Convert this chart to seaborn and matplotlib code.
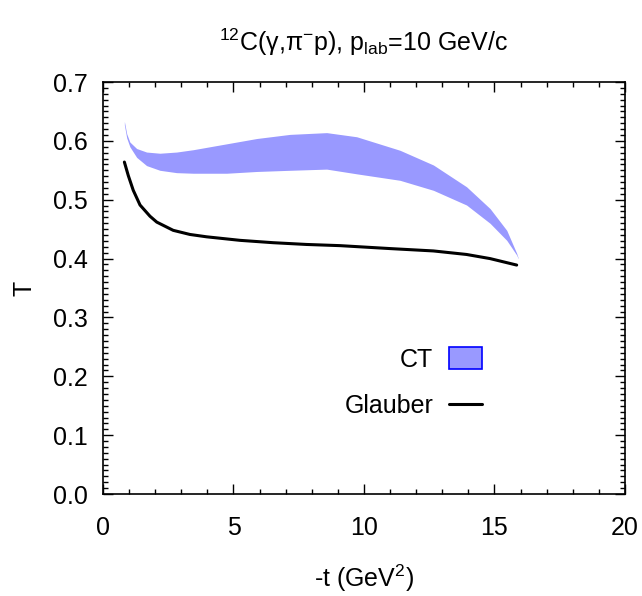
import numpy as np
import pandas as pd
import matplotlib
matplotlib.use("Agg")
import matplotlib.pyplot as plt
from matplotlib.patches import Patch
from matplotlib.lines import Line2D
from matplotlib.ticker import MultipleLocator, FormatStrFormatter
import seaborn as sns

# -----------------------------
# Data
# -----------------------------
glauber_t = [0.82, 0.97, 1.16, 1.42, 1.80, 2.06, 2.69, 3.33, 3.97, 5.25, 6.52, 7.80, 9.08,
             11.0, 12.66, 13.93, 14.83, 15.85]
glauber_T = [0.564, 0.541, 0.516, 0.491, 0.472, 0.462, 0.448, 0.441, 0.437, 0.431, 0.427, 0.424, 0.422,
             0.417, 0.413, 0.407, 0.400, 0.389]

ct_t = [0.82, 0.91, 1.03, 1.29, 1.67, 2.18, 2.82, 3.46, 4.10, 4.74, 5.89, 7.16, 8.57,
        9.72, 11.38, 12.66, 13.93, 14.83, 15.47, 15.85, 15.91]
ct_upper = [0.633, 0.612, 0.598, 0.587, 0.581, 0.579, 0.581, 0.585, 0.590, 0.595, 0.604, 0.611, 0.614,
            0.607, 0.584, 0.559, 0.522, 0.485, 0.448, 0.409, 0.401]
ct_lower = [0.627, 0.605, 0.590, 0.572, 0.558, 0.550, 0.546, 0.545, 0.545, 0.545, 0.548, 0.550, 0.552,
            0.544, 0.533, 0.516, 0.491, 0.460, 0.431, 0.406, 0.400]

# -----------------------------
# Style
# -----------------------------
sns.set_style("ticks")
plt.rcParams['font.family'] = ['Liberation Sans', 'DejaVu Sans']
plt.rcParams['mathtext.default'] = 'regular'
plt.rcParams['xtick.direction'] = 'in'
plt.rcParams['ytick.direction'] = 'in'
plt.rcParams['text.color'] = 'black'
plt.rcParams['axes.labelcolor'] = 'black'
plt.rcParams['xtick.color'] = 'black'
plt.rcParams['ytick.color'] = 'black'
plt.rcParams['axes.edgecolor'] = 'black'

fig = plt.figure(figsize=(6.42, 5.96), dpi=100)
ax = fig.add_axes([0.1604, 0.1711, 0.9735 - 0.1604, 0.8624 - 0.1711])

band_color = '#9999ff'
ax.fill_between(ct_t, ct_lower, ct_upper, color=band_color, linewidth=0)

glauber = pd.DataFrame({"t": glauber_t, "T": glauber_T})
sns.lineplot(data=glauber, x="t", y="T", color='black', linewidth=2.2, ax=ax)

ax.set_xlim(0, 20)
ax.set_ylim(0, 0.7)
ax.xaxis.set_major_locator(MultipleLocator(5))
ax.xaxis.set_minor_locator(MultipleLocator(1))
ax.yaxis.set_major_locator(MultipleLocator(0.1))
ax.yaxis.set_minor_locator(MultipleLocator(0.01))
ax.yaxis.set_major_formatter(FormatStrFormatter('%.1f'))
ax.tick_params(which='both', top=True, right=True, labelsize=18, width=1.0)
ax.tick_params(which='major', length=7)
ax.tick_params(which='minor', length=3.5)
ax.tick_params(axis='x', which='major', pad=16)
ax.tick_params(axis='y', which='major', pad=11)
for sp in ax.spines.values():
    sp.set_linewidth(1.2)

ax.set_xlabel("-t (GeV$^2$)", fontsize=18, labelpad=16)
ax.set_ylabel("T", fontsize=18, labelpad=12)
ax.set_title("$^{12}$C($\\gamma$,$\\pi^{-}$p), p$_{lab}$=10 GeV/c", fontsize=18, pad=22)

handles = [Patch(facecolor=band_color, edgecolor='#0000ff', linewidth=1.2),
           Line2D([0], [0], color='black', linewidth=2.2)]
ax.legend(handles, ["CT", "Glauber"], loc='center right', bbox_to_anchor=(0.77, 0.27),
          frameon=False, markerfirst=False, fontsize=18, handlelength=1.32,
          handleheight=0.96, labelspacing=0.9, handletextpad=0.65)

fig.savefig("out.png", dpi=100)
